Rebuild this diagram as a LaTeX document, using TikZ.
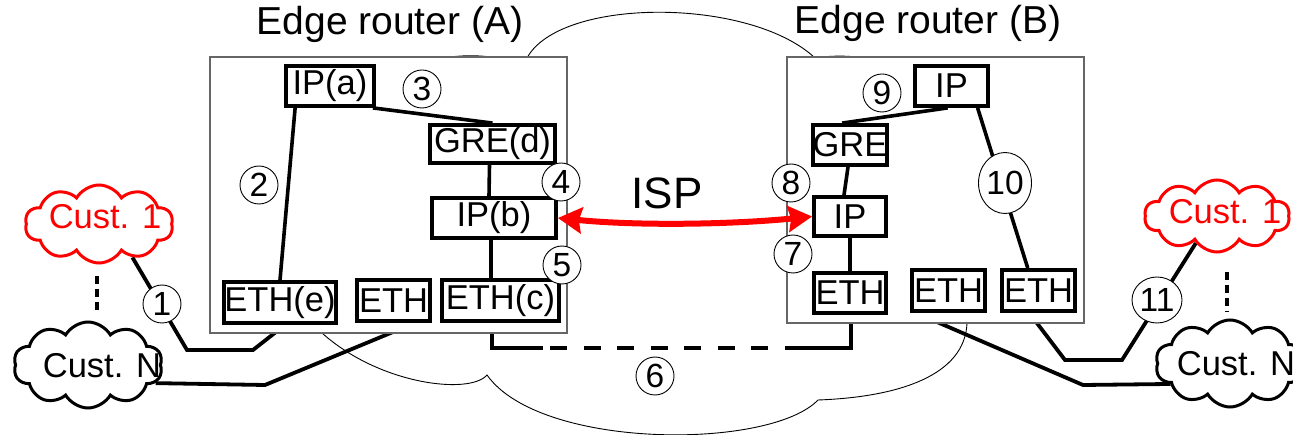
\documentclass[tikz,border=0pt]{standalone}
\usepackage{fontspec}
\setmainfont{Liberation Sans}
\usetikzlibrary{shapes.symbols,shapes.geometric,arrows.meta,calc}
\pgfdeclarelayer{cloudlayer}
\pgfdeclarelayer{linelayer}
\pgfsetlayers{cloudlayer,linelayer,main}
\begin{document}
\begin{tikzpicture}[x=1pt,y=-1pt,
  routerbox/.style={draw=black!60,line width=1.3pt,fill=white,inner sep=0pt},
  layerbox/.style={draw,line width=3.8pt,fill=white,inner sep=0pt,font=\fontsize{34.5}{36}\selectfont},
  conn/.style={line width=3.6pt},
  ext/.style={line width=3.8pt},
  num/.style={circle,draw,line width=0.9pt,fill=white,minimum size=38pt,inner sep=0pt,font=\fontsize{33.5}{34}\selectfont},
  numell/.style={ellipse,draw,line width=0.9pt,fill=white,inner sep=0pt,font=\fontsize{33.5}{34}\selectfont},
  custcloud/.style={cloud,draw,line width=3pt,cloud puffs=10,cloud puff arc=120,inner sep=0pt},
  custtext/.style={font=\fontsize{34.5}{36}\selectfont,inner sep=0pt},
  title/.style={font=\fontsize{39}{42}\selectfont,inner sep=0pt},
  cloudline/.style={line width=0.9pt}
]
\useasboundingbox (0,0) rectangle (1293,435);

% ISP cloud
\begin{pgfonlayer}{cloudlayer}
\draw[cloudline] (400,200) -- (443,58) .. controls (462,55) and (480,55) .. (497,58) -- (527,58)
  .. controls (560,-3) and (750,-3) .. (815,58) .. controls (830,55.5) and (850,55.5) .. (862,58)
  -- (900,150) -- (967,323) .. controls (965,375) and (900,397) .. (818,400)
  .. controls (770,450) and (540,450) .. (487,375) .. controls (470,395) and (380,385) .. (322,333) -- cycle;
\end{pgfonlayer}

% routers
\node[routerbox,minimum width=357pt,minimum height=276pt] (Abox) at (388.5,195) {};
\node[routerbox,minimum width=297pt,minimum height=266pt] (Bbox) at (935.5,190) {};
\node[title] (tA) at (390,24) {Edge router (A)};
\node[title] (tB) at (928,23) {Edge router (B)};

% router A layers
\node[layerbox,minimum width=88pt,minimum height=40pt] (IPa) at (330,86) {IP(a)};
\node[layerbox,minimum width=125pt,minimum height=38pt] (GREd) at (492.5,144) {GRE(d)};
\node[layerbox,minimum width=124pt,minimum height=40pt] (IPb) at (494,218) {IP(b)};
\node[layerbox,minimum width=112pt,minimum height=41pt] (ETHe) at (280,302.5) {ETH(e)};
\node[layerbox,minimum width=73pt,minimum height=41pt] (ETHA) at (393.5,300.5) {ETH};
\node[layerbox,minimum width=117pt,minimum height=41pt] (ETHc) at (500.5,300.5) {ETH(c)};

% router B layers
\node[layerbox,minimum width=73pt,minimum height=40pt] (IPt) at (951.5,86) {IP};
\node[layerbox,minimum width=72pt,minimum height=40pt] (GREB) at (850,145) {GRE};
\node[layerbox,minimum width=72pt,minimum height=39pt] (IPm) at (850,216.5) {IP};
\node[layerbox,minimum width=72pt,minimum height=40pt] (ETHB1) at (850,293) {ETH};
\node[layerbox,minimum width=73pt,minimum height=41pt] (ETHB2) at (948.5,290.5) {ETH};
\node[layerbox,minimum width=73pt,minimum height=41pt] (ETHB3) at (1038.5,290.5) {ETH};

% inner connectors A
\draw[conn] ($(IPa.south west)!0.12!(IPa.south east)$) -- (ETHe.north);
\draw[conn] ($(IPa.south east)+(-3,0)$) -- (GREd.north);
\draw[conn] ($(GREd.south)+(-3,0)$) -- ($(IPb.north)+(-5,0)$);
\draw[conn] ($(IPb.south)+(-3,0)$) -- ($(ETHc.north)+(-9.5,0)$);
% inner connectors B
\draw[conn] ($(IPt.south west)!0.45!(IPt.south east)$) -- ($(GREB.north west)!0.4!(GREB.north east)$);
\draw[conn] ($(GREB.south)+(-2,0)$) -- ($(IPm.north)+(-6,0)$);
\draw[conn] (IPm.south) -- (ETHB1.north);
\draw[conn] ($(IPt.south west)!0.84!(IPt.south east)$) -- ($(ETHB3.north west)!0.36!(ETHB3.north east)$);

% customer clouds
\node[custcloud,draw=red,aspect=1.9,minimum width=148pt,minimum height=78pt] (c1L) at (99,224) {};
\node[custtext,text=red] (c1Ltxt) at (105,217) {Cust. 1};
\node[custcloud,aspect=1.73,minimum width=149pt,minimum height=86pt] (cNL) at (88,365) {};
\node[custtext] (cNLtxt) at (102,366) {Cust. N};
\node[custcloud,draw=red,aspect=2,minimum width=145pt,minimum height=72pt] (c1R) at (1217,216) {};
\node[custtext,text=red] (c1Rtxt) at (1225,212) {Cust. 1};
\node[custcloud,aspect=1.73,minimum width=149pt,minimum height=87pt] (cNR) at (1230,363.5) {};
\node[custtext] (cNRtxt) at (1236,364) {Cust. N};

% external links
\begin{pgfonlayer}{linelayer}
\draw[ext] (c1L.-45) -- (187,350) -- (253,350) -- ($(ETHe.south)+(5,0)$);
\draw[ext] (cNL.-15) -- (265,385) -- ($(ETHA.south)+(21.5,0)$);
\draw[ext] ($(ETHc.south)+(-8.5,0)$) -- (492,348) -- (543,348) coordinate (d1);
\coordinate (d2) at (800,348);
\draw[ext,dash pattern=on 17pt off 16.5pt] (550,348) -- (d2);
\draw[ext] (d2) -- (851,348) -- ($(ETHB1.south)+(1,0)$);
\draw[ext] (c1R.232) -- (1122,360) -- (1065,360) -- ($(ETHB3.south)+(-9.3,0)$);
\draw[ext] (cNR.199) -- (1083,385) -- ($(ETHB2.south)+(-32.6,0)$);
\draw[ext,dash pattern=on 8pt off 5pt] (97,276) coordinate (dl1) -- (97,312) coordinate (dl2);
\draw[ext,dash pattern=on 8pt off 5pt] (1227,272) coordinate (dr1) -- (1227,312) coordinate (dr2);
\end{pgfonlayer}

% circled numbers
\node[num] (n1) at (162,304) {1};
\node[num] (n2) at (259,185) {2};
\node[num] (n3) at (422,89) {3};
\node[num] (n4) at (561,182) {4};
\node[num] (n5) at (562,265) {5};
\node[num] (n6) at (655,376) {6};
\node[num] (n7) at (793,254) {7};
\node[num] (n8) at (791,183) {8};
\node[num] (n9) at (882,93) {9};
\node[numell,minimum width=53pt,minimum height=61pt] (n10) at (1005,183) {10};
\node[numell,minimum width=50pt,minimum height=46pt] (n11) at (1157,300) {11};

% ISP tunnel
\node[font=\fontsize{44}{46}\selectfont,inner sep=0pt] (isp) at (667,193) {ISP};
\draw[red,line width=6pt,{Stealth[length=24pt,width=26pt,inset=3pt]}-{Stealth[length=24pt,width=26pt,inset=3pt]}]
  (IPb.east) .. controls ($(IPb.east)+(80,8)$) and ($(IPm.west)+(-80,8)$) .. (IPm.west);
\end{tikzpicture}
\end{document}
